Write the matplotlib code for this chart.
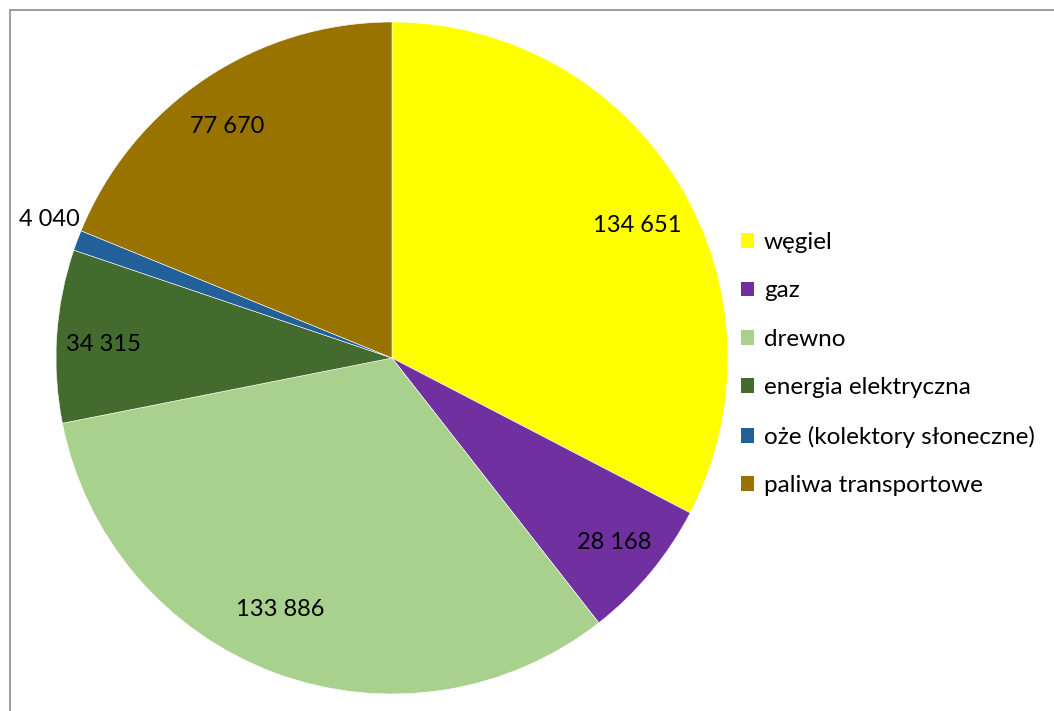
import numpy as np
import matplotlib
matplotlib.use("Agg")
import matplotlib.pyplot as plt
from matplotlib.patches import Rectangle

categories = ["węgiel", "gaz", "drewno", "energia elektryczna",
              "oże (kolektory słoneczne)", "paliwa transportowe"]
values = [134651, 28168, 133886, 34315, 4040, 77670]
value_labels = ["134 651", "28 168", "133 886", "34 315", "4 040", "77 670"]
colors = ["#FFFF00", "#7030A0", "#A9D18E", "#426B2D", "#22609A", "#997300"]
label_radius = [0.83, 0.86, 0.82, 0.86, 1.10, 0.845]
label_shift_deg = [-3, 0, -3.5, 1, -1.5, 1.5]

plt.rcParams["font.family"] = ["Lato", "DejaVu Sans"]

W, H = 1054, 711
fig = plt.figure(figsize=(W / 100, H / 100), dpi=100)

# outer chart frame (runs off the right and bottom edges)
fig.patches.append(Rectangle((9.5 / W, -0.1), 1.2, (H - 9.5) / H + 0.1,
                             transform=fig.transFigure, fill=False,
                             edgecolor="#8C8C8C", linewidth=1.2))

cx, cy, r = 392, 358, 336
ax = fig.add_axes([(cx - r) / W, (H - cy - r) / H, 2 * r / W, 2 * r / H])
wedges, _ = ax.pie(values, colors=colors, startangle=90, counterclock=False,
                   radius=1.0,
                   wedgeprops=dict(edgecolor="white", linewidth=0.4))
ax.set_xlim(-1, 1)
ax.set_ylim(-1, 1)
ax.set_aspect("equal")
ax.axis("off")

for w, txt, lr, sh in zip(wedges, value_labels, label_radius, label_shift_deg):
    ang = np.deg2rad((w.theta1 + w.theta2) / 2 + sh)
    ax.text(lr * np.cos(ang), lr * np.sin(ang), txt, ha="center", va="center",
            fontsize=17, color="black", clip_on=False)

leg = fig.legend(wedges, categories, loc="upper left",
                 bbox_to_anchor=(741 / W, 1 - 232 / H),
                 frameon=False, fontsize=17.5, handlelength=0.55,
                 handleheight=0.55, handletextpad=0.4, labelspacing=1.13,
                 borderpad=0, borderaxespad=0)
for h in leg.legend_handles:
    h.set_edgecolor("none")

fig.savefig("out.png", dpi=100, facecolor="white")
